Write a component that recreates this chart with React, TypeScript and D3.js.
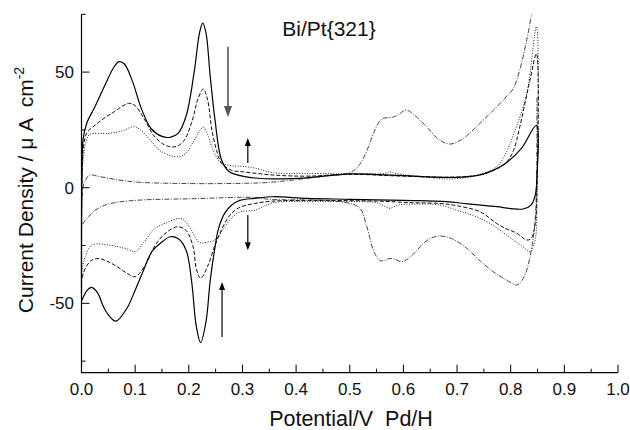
import React from "react";
import * as d3 from "d3";

// ---- data: [potential V, current density µA cm^-2] ----
const solidLoop: [number, number][] = [
  [0.0, -46], [0.001, 10], [0.003, 21], [0.01, 28], [0.025, 35], [0.045, 45], [0.06, 52], [0.07, 54.5],
  [0.08, 53.5], [0.095, 46], [0.112, 34], [0.13, 25.5], [0.15, 22.2], [0.165, 21.8], [0.18, 23.5],
  [0.195, 31], [0.21, 50], [0.22, 67], [0.226, 71.2], [0.232, 67], [0.24, 48], [0.249, 29], [0.261, 12],
  [0.275, 7], [0.3, 5], [0.323, 4.2], [0.36, 3.8], [0.42, 4.3], [0.5, 6], [0.55, 5.7], [0.6, 5.2],
  [0.7, 4.5], [0.75, 6], [0.79, 10.5], [0.82, 17], [0.848, 27], [0.849, 5], [0.846, -3], [0.838, -7.5],
  [0.823, -9.2], [0.8, -9], [0.774, -8.2], [0.72, -7], [0.68, -6], [0.6, -5.5], [0.5, -5], [0.42, -4.6],
  [0.357, -3.9], [0.323, -4.6], [0.295, -5.5], [0.28, -7.5], [0.267, -11], [0.255, -18], [0.249, -25.5],
  [0.24, -40], [0.232, -58], [0.222, -67], [0.214, -60], [0.205, -40], [0.195, -27], [0.18, -22],
  [0.165, -21.2], [0.15, -23.5], [0.131, -27.7], [0.115, -36], [0.1, -44.3], [0.085, -52], [0.064, -57.7],
  [0.05, -55], [0.041, -51.5], [0.03, -45.5], [0.019, -43.1], [0.01, -44.5], [0.003, -47.5], [0.0, -49],
];

const dashedLoop: [number, number][] = [
  [0.0, -40], [0.001, 5], [0.004, 18], [0.01, 23.7], [0.025, 27], [0.045, 30.5], [0.062, 33], [0.08, 35.8],
  [0.09, 36.5], [0.1, 35.5], [0.118, 29.3], [0.135, 22.5], [0.155, 18.5], [0.174, 17.7], [0.19, 20],
  [0.205, 28], [0.218, 39], [0.227, 42.7], [0.235, 38], [0.243, 25], [0.252, 16], [0.261, 10.6],
  [0.28, 7.5], [0.3, 6.9], [0.357, 5.5], [0.42, 5], [0.5, 5.8], [0.6, 5], [0.7, 4.6], [0.75, 6],
  [0.79, 10.5], [0.805, 16], [0.817, 26.4], [0.836, 46.6], [0.848, 58], [0.849, 0], [0.846, -15],
  [0.838, -22], [0.83, -22.6], [0.81, -19.5], [0.79, -17.6], [0.774, -15.5], [0.743, -10.4], [0.7, -7.8],
  [0.668, -6.8], [0.618, -6.5], [0.55, -5.8], [0.42, -5.5], [0.357, -5.8], [0.323, -6.8], [0.295, -8.5],
  [0.28, -11], [0.267, -15.4], [0.249, -24.8], [0.235, -34], [0.222, -39.2], [0.214, -35], [0.208, -25.5],
  [0.195, -18.5], [0.178, -16.9], [0.155, -20], [0.137, -25], [0.12, -33], [0.1, -38.5], [0.085, -37],
  [0.062, -33.5], [0.045, -31.5], [0.031, -30.6], [0.018, -31.5], [0.007, -34.9], [0.0, -40],
];

const dottedLoop: [number, number][] = [
  [0.0, -38], [0.001, 5], [0.004, 14], [0.008, 19.5], [0.015, 23], [0.05, 23.5], [0.075, 24.5],
  [0.097, 26.4], [0.11, 25], [0.125, 21.4], [0.15, 15.5], [0.18, 13.4], [0.195, 15], [0.21, 20.5],
  [0.227, 26.1], [0.235, 23], [0.243, 17.7], [0.252, 13], [0.261, 10.6], [0.28, 9.5], [0.3, 9.3],
  [0.323, 8.5], [0.357, 6.5], [0.42, 6.2], [0.52, 6], [0.565, 6.2], [0.575, 6.9], [0.585, 6.2],
  [0.65, 4.5], [0.687, 3.8], [0.73, 5], [0.774, 9.1], [0.79, 14.5], [0.805, 22.8], [0.83, 40.9],
  [0.848, 69.7], [0.849, -5], [0.846, -22], [0.838, -27.5], [0.835, -27.7], [0.82, -25], [0.805, -22.6],
  [0.761, -15.4], [0.73, -12], [0.699, -9.7], [0.668, -7.5], [0.618, -7.1], [0.59, -7.5], [0.575, -8.9],
  [0.565, -8], [0.55, -6.5], [0.5, -6], [0.42, -6], [0.357, -6.5], [0.323, -9.7], [0.295, -10.5],
  [0.28, -13], [0.267, -16.9], [0.249, -22.6], [0.235, -23.5], [0.221, -23.8], [0.212, -21.5],
  [0.205, -18.3], [0.19, -13.8], [0.18, -13.3], [0.16, -15], [0.137, -17.6], [0.115, -24], [0.1, -27.7],
  [0.085, -26.5], [0.05, -24.8], [0.019, -24.8], [0.007, -29.9], [0.002, -34], [0.0, -38.5],
];

const dashDotAnodic: [number, number][] = [
  [0.0, -16], [0.001, -5], [0.003, 0.5], [0.008, 3.5], [0.015, 5.5], [0.03, 5], [0.05, 4.1], [0.08, 3],
  [0.112, 2.3], [0.2, 1.8], [0.3, 1.9], [0.35, 2.3], [0.4, 3.5], [0.45, 5], [0.5, 6.5], [0.515, 9],
  [0.53, 15], [0.545, 24], [0.555, 28.5], [0.563, 30], [0.58, 30.5], [0.59, 31.5], [0.605, 33.6],
  [0.62, 31.5], [0.643, 26.4], [0.665, 21], [0.687, 18.9], [0.71, 21], [0.73, 25], [0.749, 29.3],
  [0.77, 34], [0.792, 39.4], [0.805, 43], [0.817, 51], [0.83, 64], [0.839, 75],
];

const dashDotCathodic: [number, number][] = [
  [0.849, 39], [0.8485, 10], [0.847, -8], [0.843, -20], [0.836, -29.9], [0.828, -37], [0.818, -41],
  [0.811, -42.1], [0.8, -41], [0.768, -36.4], [0.74, -31], [0.718, -26.2], [0.69, -22], [0.668, -20.9],
  [0.65, -22], [0.637, -24.1], [0.615, -29.5], [0.597, -32], [0.585, -31], [0.575, -30.6], [0.565, -31.4],
  [0.556, -31.5], [0.544, -27], [0.532, -16.9], [0.519, -8.9], [0.5, -6.8], [0.45, -5.5], [0.35, -5],
  [0.323, -4.2], [0.2, -4.8], [0.112, -5.3], [0.07, -6.2], [0.044, -7.5], [0.025, -9.8], [0.013, -12.6],
  [0.004, -15], [0.0, -16.9],
];

const xMajorTicks = [0, 0.1, 0.2, 0.3, 0.4, 0.5, 0.6, 0.7, 0.8, 0.9, 1.0];
const xMinorTicks = [0.05, 0.15, 0.25, 0.35, 0.45, 0.55, 0.65, 0.75, 0.85, 0.95];
const yMajorTicks = [-50, 0, 50];
const yMinorTicks = [-75, -25, 25, 75];

// arrows: potential, start current, tip current
const arrowV = [0.273, 0.31, 0.31, 0.262];
const arrowFrom = [61, 10.7, -11.8, -64.6];
const arrowTo = [30.6, 21.5, -27, -40.8];

const W = 630;
const H = 430;

export default function App() {
  const x = d3.scaleLinear().domain([0, 1]).range([81.5, 618]);
  const y = d3.scaleLinear().domain([-80, 75]).range([372.7, 14.3]);
  const line = d3
    .line<[number, number]>()
    .x((d) => x(d[0]))
    .y((d) => y(d[1]))
    .curve(d3.curveCatmullRom.alpha(0.5));

  const x0 = x(0);
  const yb = y(-80);
  const font = "Liberation Sans, Arial, Helvetica, sans-serif";

  return (
    <svg
      width={W}
      height={H}
      style={{ position: "absolute", left: 0, top: 0, background: "#fff" }}
      fontFamily={font}
    >
      <rect x={0} y={0} width={W} height={H} fill="#fff" />
      {/* curves */}
      <path d={line(dashDotAnodic) || ""} fill="none" stroke="#333" strokeWidth={0.9} strokeDasharray="5,1.5,1,1.5" />
      <path d={line(dashDotCathodic) || ""} fill="none" stroke="#333" strokeWidth={0.9} strokeDasharray="5,1.5,1,1.5" />
      <path d={line(dottedLoop) || ""} fill="none" stroke="#222" strokeWidth={1} strokeDasharray="1,1.6" />
      <path d={line(dashedLoop) || ""} fill="none" stroke="#111" strokeWidth={1} strokeDasharray="4,2" />
      <path d={line(solidLoop) || ""} fill="none" stroke="#000" strokeWidth={1.2} />

      {/* arrows */}
      {arrowV.map((v, i) => {
        const ax = x(v);
        const y1 = y(arrowFrom[i]);
        const y2 = y(arrowTo[i]);
        const dir = y2 > y1 ? 1 : -1;
        const big = i === 0;
        const hl = big ? 11 : 8;
        const hw = big ? 4 : 3;
        const col = big ? "#555" : "#000";
        return (
          <g key={i}>
            <line x1={ax} y1={y1} x2={ax} y2={y2 - dir * hl} stroke={col} strokeWidth={big ? 1.6 : 1.2} />
            <polygon
              points={`${ax - hw},${y2 - dir * hl} ${ax + hw},${y2 - dir * hl} ${ax},${y2}`}
              fill={col}
            />
          </g>
        );
      })}

      {/* axes */}
      <line x1={x0} y1={y(75)} x2={x0} y2={yb} stroke="#000" strokeWidth={1.2} />
      <line x1={x0} y1={yb} x2={x(1)} y2={yb} stroke="#000" strokeWidth={1.2} />
      {xMajorTicks.map((t) => (
        <g key={"xm" + t}>
          <line x1={x(t)} y1={yb} x2={x(t)} y2={yb - 8} stroke="#000" strokeWidth={1} />
          <text x={x(t)} y={395} textAnchor="middle" fontSize={17} fill="#111">
            {d3.format(".1f")(t)}
          </text>
        </g>
      ))}
      {xMinorTicks.map((t) => (
        <line key={"xn" + t} x1={x(t)} y1={yb} x2={x(t)} y2={yb - 4} stroke="#000" strokeWidth={1} />
      ))}
      {yMajorTicks.map((t) => (
        <g key={"ym" + t}>
          <line x1={x0} y1={y(t)} x2={x0 + 8} y2={y(t)} stroke="#000" strokeWidth={1} />
          <text x={74} y={y(t) + 6} textAnchor="end" fontSize={17} fill="#111">
            {t}
          </text>
        </g>
      ))}
      {yMinorTicks.map((t) => (
        <line key={"yn" + t} x1={x0} y1={y(t)} x2={x0 + 4} y2={y(t)} stroke="#000" strokeWidth={1} />
      ))}

      {/* labels */}
      <text x={329} y={36} textAnchor="middle" fontSize={21} fill="#111">
        Bi/Pt{"{321}"}
      </text>
      <text x={351} y={426} textAnchor="middle" fontSize={21.5} fill="#111" style={{ whiteSpace: "pre" }}>
        {"Potential/V  Pd/H"}
      </text>
      <text
        transform="translate(33,190) rotate(-90)"
        textAnchor="middle"
        fontSize={21}
        fill="#111"
        style={{ whiteSpace: "pre" }}
      >
        {"Current Density / μ A  cm"}
        <tspan fontSize={14} dy={-9}>-2</tspan>
      </text>
    </svg>
  );
}
